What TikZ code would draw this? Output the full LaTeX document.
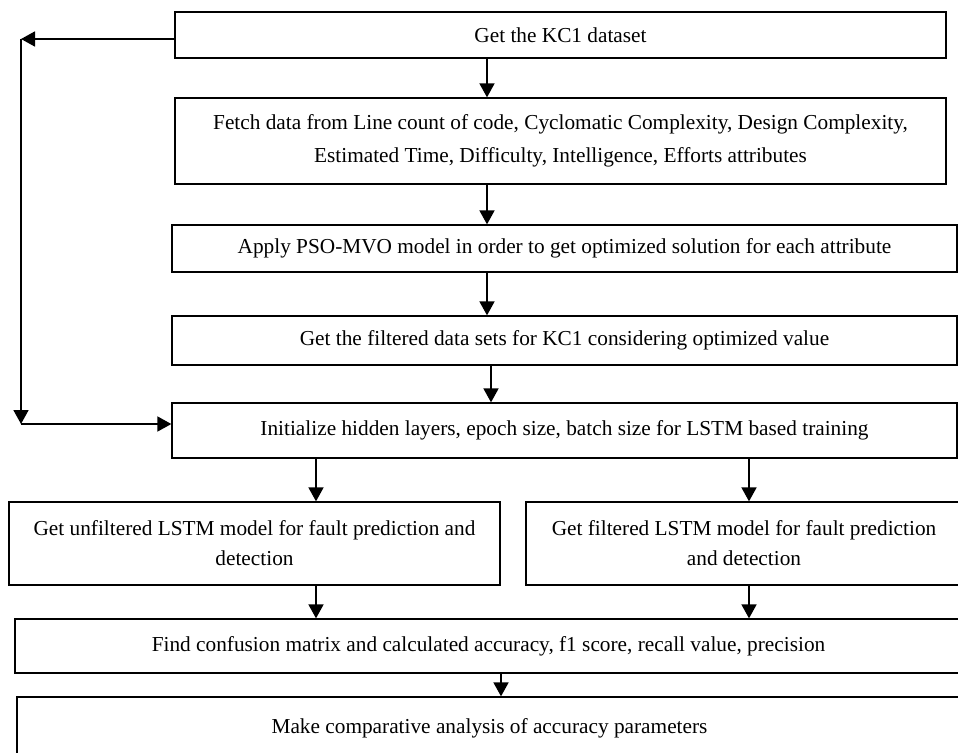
\documentclass[tikz,border=0pt]{standalone}
\usepackage{fontspec}
\setmainfont{Liberation Serif}
\usetikzlibrary{arrows.meta}
\tikzset{
  boite/.style={draw, line width=1.3pt, minimum width=#1, inner sep=0pt, align=center,
    font=\fontsize{21.3}{30}\selectfont},
  fleche/.style={-{Triangle[length=14pt,width=15pt]}, line width=1.8pt}
}
\begin{document}
\begin{tikzpicture}[x=1pt, y=-1pt]
\clip (0,0) rectangle (958,752);
% dessiner les boites
  \node[boite=771pt, minimum height=46pt] (kc) at (560.5,35) {Get the KC1 dataset};
  \node[boite=771pt, minimum height=86pt, font=\fontsize{21.3}{33}\selectfont] (fetch) at (560.5,141) {Fetch data from Line count of code, Cyclomatic Complexity, Design Complexity,\\ Estimated Time, Difficulty, Intelligence, Efforts attributes};
  \node[boite=785pt, minimum height=47pt] (pso) at (564.5,248.5) {Apply PSO-MVO model in order to get optimized solution for each attribute};
  \node[boite=785pt, minimum height=49pt] (filt) at (564.5,340.5) {Get the filtered data sets for KC1 considering optimized value};
  \node[boite=785pt, minimum height=55pt] (init) at (564.5,430.5) {Initialize hidden layers, epoch size, batch size for LSTM based training};
  \node[boite=491pt, minimum height=83pt] (unfilt) at (254.5,543.5) {Get unfiltered LSTM model for fault prediction and\\ detection};
  \node[boite=436pt, minimum height=83pt] (lstm) at (744,543.5) {Get filtered LSTM model for fault prediction\\ and detection};
  \node[boite=947pt, minimum height=54pt] (conf) at (488.5,646) {Find confusion matrix and calculated accuracy, f1 score, recall value, precision};
  \node[boite=945pt, minimum height=63pt] (comp) at (489.5,728.5) {Make comparative analysis of accuracy parameters};

  % dessiner les flèches
  \coordinate (c1) at (487,0);
  \coordinate (c2) at (491,0);
  \coordinate (cg) at (316,0);
  \coordinate (cd) at (749,0);
  \coordinate (cb) at (501,0);
  \foreach \a/\b in {kc/fetch, fetch/pso, pso/filt}
    \draw[fleche] (\a.south -| c1) -- (\b.north -| c1);
  \draw[fleche] (filt.south -| c2) -- (init.north -| c2);
  \draw[fleche] (init.south -| cg) -- (unfilt.north -| cg);
  \draw[fleche] (init.south -| cd) -- (lstm.north -| cd);
  \draw[fleche] (unfilt.south -| cg) -- (conf.north -| cg);
  \draw[fleche] (lstm.south -| cd) -- (conf.north -| cd);
  \draw[fleche] (conf.south -| cb) -- (comp.north -| cb);

  % boucle à gauche
  \coordinate (haut) at (21,39);
  \coordinate (bas) at (21,424);
  \draw[fleche] (kc.west |- haut) -- (haut);
  \draw[fleche] (haut) -- (bas);
  \draw[fleche] (bas) -- (init.west |- bas);
\end{tikzpicture}
\end{document}
